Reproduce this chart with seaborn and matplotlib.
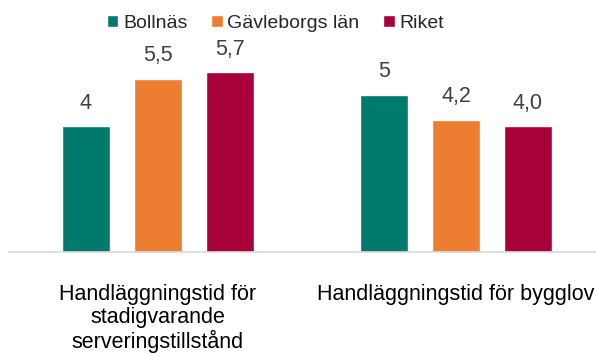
import matplotlib
matplotlib.use("Agg")
import matplotlib.pyplot as plt
import seaborn as sns
import pandas as pd

categories = ["Handläggningstid för\nstadigvarande\nserveringstillstånd",
              "Handläggningstid för bygglov"]
series = ["Bollnäs", "Gävleborgs län", "Riket"]
bollnas = [4, 5]
gavleborg = [5.5, 4.2]
riket = [5.7, 4.0]
value_labels = [["4", "5"], ["5,5", "4,2"], ["5,7", "4,0"]]
colors = ["#007A6C", "#ED7D31", "#A8003A"]

rows = []
for name, vals in zip(series, [bollnas, gavleborg, riket]):
    for cat, v in zip(categories, vals):
        rows.append({"Kategori": cat, "Område": name, "Värde": v})
df = pd.DataFrame(rows)

sns.set_theme(style="white")
plt.rcParams["font.family"] = ["Liberation Sans", "DejaVu Sans"]

fig = plt.figure(figsize=(5.96, 3.56), dpi=100)
ax = fig.add_axes([0.015, 0.292, 0.985, 0.708])

sns.barplot(data=df, x="Kategori", y="Värde", hue="Område",
            palette=colors, width=0.725, gap=0.33, ax=ax,
            saturation=1, legend=True)

ax.set_ylim(0, 8)
ax.set_xlim(-0.5, 1.47)

for container, labels in zip(ax.containers, value_labels):
    ax.bar_label(container, labels=labels, padding=9, fontsize=15.5,
                 color="#404040")

for s in ["top", "right", "left"]:
    ax.spines[s].set_visible(False)
ax.spines["bottom"].set_color("#D9D9D9")
ax.spines["bottom"].set_linewidth(1.2)
ax.set_yticks([])
ax.set_xlabel("")
ax.set_ylabel("")
ax.tick_params(axis="x", length=0, pad=23, labelsize=15.5, labelcolor="black")
for t in ax.get_xticklabels():
    t.set_linespacing(1.1)

handles, labels = ax.get_legend_handles_labels()
ax.legend(handles, labels, loc="center", bbox_to_anchor=(0.462, 0.935),
          bbox_transform=fig.transFigure, ncol=3, frameon=False, fontsize=14,
          handlelength=0.6, handleheight=0.6, handletextpad=0.25,
          columnspacing=1.2)

fig.savefig("out.png", dpi=100)
